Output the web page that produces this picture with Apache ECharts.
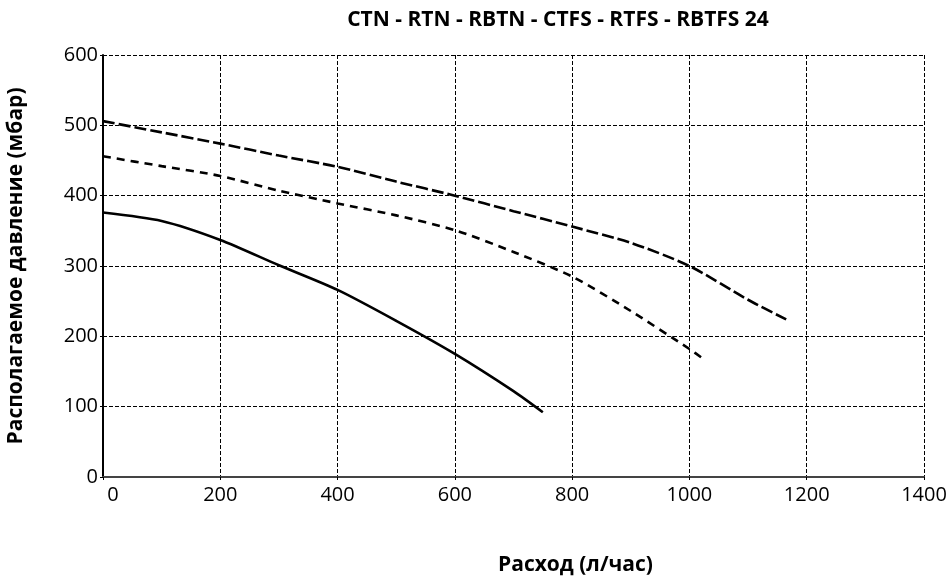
<!DOCTYPE html>
<html>
<head>
<meta charset="utf-8">
<script src="https://cdn.jsdelivr.net/npm/echarts@6/dist/echarts.min.js"></script>
<style>
  html, body { margin: 0; padding: 0; background: #fff; }
  #chart { width: 952px; height: 580px; }
</style>
</head>
<body>
<div id="chart"></div>
<script>
// Pressure curves: flow (л/час) vs available pressure (мбар)
var flowSolid = [0, 100, 200, 300, 400, 500, 600, 700, 750];
var pressSolid = [376, 364, 337, 301, 266, 222, 175, 122, 92];

var flowShort = [0, 100, 200, 300, 400, 500, 600, 700, 800, 900, 1000, 1022];
var pressShort = [456, 442, 428, 407, 389, 372, 351, 320, 285, 236, 182, 169];

var flowLong = [0, 100, 200, 300, 400, 500, 600, 700, 800, 900, 1000, 1100, 1165];
var pressLong = [506, 490, 474, 457, 441, 420, 400, 378, 356, 333, 300, 252, 224];

var xTicks = [0, 200, 400, 600, 800, 1000, 1200, 1400];
var yTicks = [0, 100, 200, 300, 400, 500, 600];

function pairs(xs, ys) {
  return xs.map(function (x, i) { return [x, ys[i]]; });
}

var FONT = '"Open Sans", "Noto Sans", sans-serif';
var chart = echarts.init(document.getElementById('chart'), null, { renderer: 'canvas' });

chart.setOption({
  animation: false,
  backgroundColor: '#ffffff',
  title: {
    text: 'CTN - RTN - RBTN - CTFS - RTFS - RBTFS 24',
    left: 553,
    textAlign: 'center',
    top: 5,
    textStyle: { fontFamily: FONT, fontWeight: 'bold', fontSize: 21, color: '#000' }
  },
  grid: { left: 103, right: 28, top: 55, bottom: 103, containLabel: false, outerBoundsMode: 'none' },
  xAxis: {
    type: 'value',
    min: xTicks[0],
    max: xTicks[xTicks.length - 1],
    interval: 200,
    name: 'Расход (л/час)',
    nameLocation: 'middle',
    nameGap: 78,
    nameTextStyle: {
      fontFamily: FONT, fontWeight: 'bold', fontSize: 21, color: '#000',
      padding: [0, 0, 0, 124]
    },
    axisLine: { show: true, onZero: false, lineStyle: { color: '#444', width: 2 } },
    axisTick: { show: true, length: 3, lineStyle: { color: '#000', width: 1 } },
    axisLabel: {
      fontFamily: FONT, fontSize: 20, color: '#000', margin: 8,
      formatter: function (v) { return v === 0 ? '{z|0}' : String(v); },
      rich: { z: { fontFamily: FONT, fontSize: 20, color: '#000', padding: [0, 0, 0, 20] } }
    },
    splitLine: { show: true, lineStyle: { color: '#000', width: 1, type: [4, 2] } }
  },
  yAxis: {
    type: 'value',
    min: yTicks[0],
    max: yTicks[yTicks.length - 1],
    interval: 100,
    name: 'Располагаемое давление (мбар)',
    nameLocation: 'middle',
    nameGap: 76,
    nameRotate: 90,
    nameTextStyle: { fontFamily: FONT, fontWeight: 'bold', fontSize: 21, color: '#000' },
    axisLine: { show: true, onZero: false, lineStyle: { color: '#000', width: 2 } },
    axisTick: { show: true, length: 3, lineStyle: { color: '#000', width: 1 } },
    axisLabel: { fontFamily: FONT, fontSize: 20, color: '#000', margin: 5 },
    splitLine: { show: true, lineStyle: { color: '#000', width: 1, type: [4, 2] } }
  },
  series: [
    {
      type: 'line',
      data: pairs(flowSolid, pressSolid),
      smooth: 0.25,
      symbol: 'none',
      lineStyle: { color: '#000', width: 2.6, type: 'solid' },
      z: 5
    },
    {
      type: 'line',
      data: pairs(flowShort, pressShort),
      smooth: 0.25,
      symbol: 'none',
      lineStyle: { color: '#000', width: 2.6, type: [8, 6] },
      z: 5
    },
    {
      type: 'line',
      data: pairs(flowLong, pressLong),
      smooth: 0.25,
      symbol: 'none',
      lineStyle: { color: '#000', width: 2.6, type: [12, 4] },
      z: 5
    }
  ]
});
</script>
</body>
</html>
